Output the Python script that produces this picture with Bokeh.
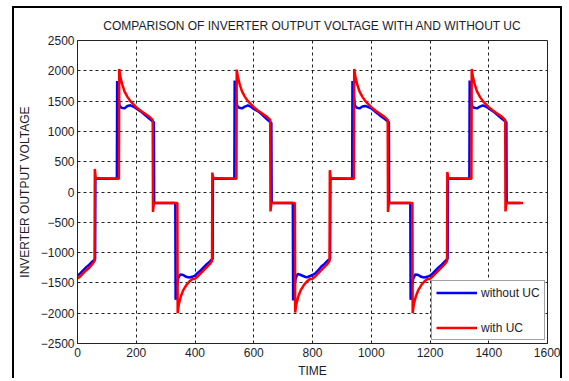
from bokeh.plotting import figure
from bokeh.embed import file_html
from bokeh.resources import INLINE
from bokeh.models import Legend, LegendItem, FixedTicker

# ---- data ----
t_without = [0, 10, 20, 30, 40, 50, 60, 61, 64, 134, 135, 139, 143, 150, 160, 170, 180, 190, 200, 215, 230, 245, 260, 261, 265, 333, 334, 338, 343, 350, 360, 370, 380, 390,
             400, 410, 420, 430, 440, 450, 460, 461, 464, 534, 535, 539, 543, 550, 560, 570, 580, 590, 600, 615, 630, 645, 660, 661, 665, 733, 734, 738, 743, 750, 760, 770, 780, 790,
             800, 810, 820, 830, 840, 850, 860, 861, 864, 935, 936, 940, 944, 951, 960, 970, 980, 990, 1000, 1015, 1030, 1045, 1060, 1061, 1065, 1133, 1134, 1138, 1143, 1150, 1160, 1170, 1180, 1190,
             1200, 1210, 1220, 1230, 1240, 1250, 1260, 1261, 1264, 1334, 1335, 1339, 1343, 1350, 1360, 1370, 1380, 1390, 1400, 1415, 1430, 1445, 1460, 1461, 1465, 1508]
v_without = [-1380, -1340, -1290, -1240, -1200, -1150, -1110, 240, 220, 220, 1830, 1600, 1420, 1390, 1380, 1420, 1430, 1410, 1380, 1330, 1270, 1210, 1150, -170, -180, -180, -1780, -1550, -1420, -1360, -1370, -1400, -1410, -1400,
             -1380, -1330, -1290, -1240, -1190, -1150, -1100, 250, 220, 220, 1840, 1620, 1430, 1390, 1380, 1410, 1430, 1410, 1370, 1330, 1270, 1200, 1140, -170, -180, -180, -1790, -1560, -1420, -1350, -1370, -1390, -1410, -1390,
             -1370, -1340, -1290, -1230, -1190, -1140, -1100, 230, 220, 220, 1830, 1610, 1430, 1390, 1380, 1410, 1420, 1400, 1380, 1320, 1260, 1210, 1150, -170, -180, -180, -1780, -1560, -1430, -1360, -1370, -1400, -1410, -1400,
             -1380, -1340, -1290, -1240, -1200, -1150, -1100, 240, 220, 220, 1840, 1610, 1420, 1390, 1380, 1410, 1430, 1410, 1380, 1330, 1270, 1210, 1150, -170, -180, -180]

t_with = [0, 10, 20, 30, 40, 50, 58, 59, 62, 141, 142, 146, 152, 160, 170, 180, 190, 200, 215, 230, 245, 256, 257, 260, 340, 341, 345, 352, 360, 370, 380, 390,
          400, 410, 420, 430, 440, 450, 458, 459, 462, 541, 542, 546, 552, 560, 570, 580, 590, 600, 615, 630, 645, 656, 657, 660, 740, 741, 745, 752, 760, 770, 780, 790,
          800, 810, 820, 830, 840, 850, 858, 859, 862, 941, 942, 946, 952, 960, 970, 980, 990, 1000, 1015, 1030, 1045, 1056, 1057, 1060, 1140, 1141, 1145, 1152, 1160, 1170, 1180, 1190,
          1200, 1210, 1220, 1230, 1240, 1250, 1258, 1259, 1262, 1341, 1342, 1346, 1352, 1360, 1370, 1380, 1390, 1400, 1415, 1430, 1445, 1456, 1457, 1460, 1517]
v_with = [-1430, -1390, -1340, -1290, -1250, -1190, -1140, 380, 230, 220, 2030, 1900, 1780, 1660, 1570, 1500, 1450, 1400, 1340, 1290, 1240, 1190, -330, -180, -180, -2000, -1850, -1720, -1620, -1540, -1480, -1440,
          -1430, -1390, -1340, -1290, -1240, -1190, -1140, 320, 230, 220, 2020, 1900, 1780, 1660, 1570, 1500, 1450, 1400, 1340, 1290, 1240, 1190, -320, -180, -180, -1990, -1850, -1720, -1620, -1540, -1480, -1440,
          -1430, -1390, -1340, -1290, -1240, -1190, -1140, 360, 230, 220, 2030, 1900, 1780, 1660, 1570, 1500, 1450, 1400, 1340, 1290, 1240, 1190, -330, -180, -180, -2000, -1850, -1720, -1620, -1540, -1480, -1440,
          -1430, -1390, -1340, -1290, -1240, -1190, -1140, 330, 230, 220, 2030, 1900, 1780, 1660, 1570, 1500, 1450, 1400, 1340, 1290, 1240, 1190, -320, -180, -180]

x_ticks = [0, 200, 400, 600, 800, 1000, 1200, 1400, 1600]
y_ticks = [-2500, -2000, -1500, -1000, -500, 0, 500, 1000, 1500, 2000, 2500]

FONT = "Liberation Sans"
TXT = "#1c1c2c"

p = figure(width=550, height=372, output_backend="svg", toolbar_location=None,
           x_range=(0, 1600), y_range=(-2500, 2500),
           title="COMPARISON OF INVERTER OUTPUT VOLTAGE WITH AND WITHOUT UC",
           min_border_left=60, min_border_right=17, min_border_top=28, min_border_bottom=36,
           styles={"border-left": "2px solid black", "border-top": "2px solid black",
                   "border-right": "2px solid black", "margin-left": "12px", "margin-top": "6px"})
p.title.align = "center"
p.title.standoff = 16
p.title.text_font = FONT
p.title.text_font_size = "12px"
p.title.text_font_style = "normal"
p.title.text_color = TXT

p.outline_line_color = "#222222"
p.outline_line_width = 1

for ax in (p.xaxis[0], p.yaxis[0]):
    ax.major_label_text_font = FONT
    ax.major_label_text_font_size = "12px"
    ax.major_label_text_color = TXT
    ax.axis_label_text_font = FONT
    ax.axis_label_text_font_size = "12px"
    ax.axis_label_text_font_style = "normal"
    ax.axis_label_text_color = TXT
    ax.axis_line_color = "#222222"
    ax.major_tick_out = 0
    ax.major_tick_in = 0
    ax.minor_tick_out = 0
    ax.minor_tick_in = 0

p.xaxis.major_label_standoff = 4
p.yaxis.major_label_standoff = 3
p.xaxis.ticker = FixedTicker(ticks=x_ticks)
p.yaxis.ticker = FixedTicker(ticks=y_ticks)
p.xaxis.axis_label = "TIME"
p.yaxis.axis_label = "INVERTER OUTPUT VOLTAGE"
p.xaxis.axis_label_standoff = 4
p.yaxis.axis_label_standoff = 6

p.grid.grid_line_color = "#222222"
p.grid.grid_line_dash = "3 3"
p.grid.grid_line_width = 1

r_blue = p.line(t_without, v_without, line_color="#0000ff", line_width=2.5)
r_red = p.line(t_with, v_with, line_color="#ff0000", line_width=2.5)

legend = Legend(items=[LegendItem(label="without UC", renderers=[r_blue]),
                       LegendItem(label="with UC", renderers=[r_red])],
                location=(354, 3))
legend.margin = 0
legend.padding = 4
legend.spacing = 20
legend.glyph_width = 41
legend.glyph_height = 15
legend.label_height = 15
legend.label_standoff = 4
legend.label_text_font = FONT
legend.label_text_font_size = "12px"
legend.label_text_color = TXT
legend.border_line_color = "#444444"
legend.border_line_width = 1
legend.background_fill_color = "white"
legend.background_fill_alpha = 1
p.add_layout(legend)

open("out.html", "w").write(file_html(p, INLINE))
